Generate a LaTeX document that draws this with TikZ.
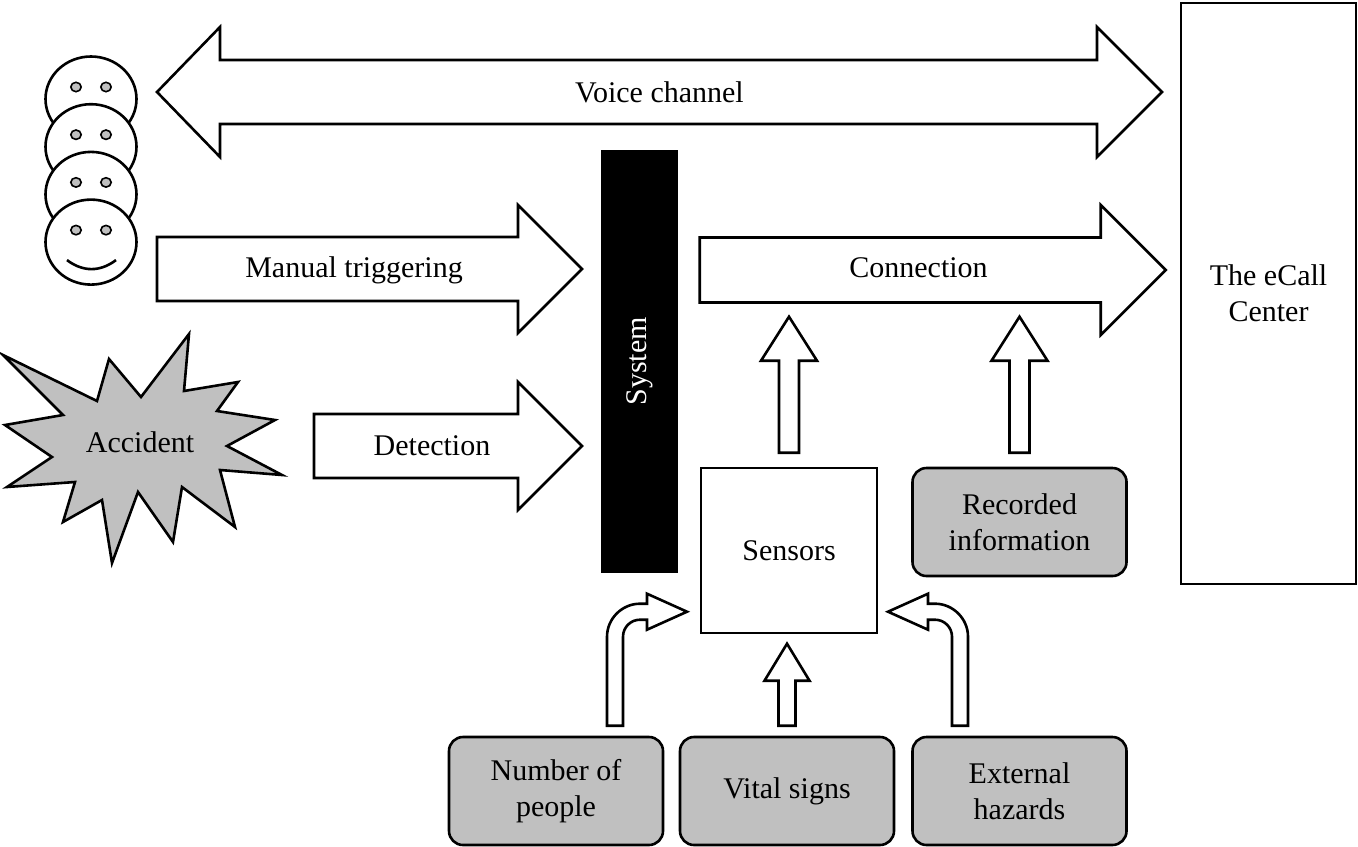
\documentclass[tikz,border=0pt]{standalone}
\usepackage{fontspec}
\setmainfont{Liberation Serif}
\usetikzlibrary{calc,shapes.geometric}
\definecolor{boxgray}{HTML}{C0C0C0}
% straight block arrow: tail, angle, length, half shaft, half head, head length
\newcommand{\blockarrow}[6]{%
    \draw[blk, shift={#1}, rotate=#2] (0,-#4) -- ({#3-#6},-#4) -- ({#3-#6},-#5) -- (#3,0)
        -- ({#3-#6},#5) -- ({#3-#6},#4) -- (0,#4) -- cycle;%
}
% bent block arrow, first up then sideways: foot, xscale (1 right, -1 left)
\newcommand{\bentarrow}[2]{%
    \draw[blk, shift={#1}, xscale=#2] (-8,0) -- (-8,-89) .. controls (-8,-107) and (7,-122) .. (25,-122)
        -- (32,-122) -- (32,-132) -- (72,-114) -- (32,-96) -- (32,-106) -- (25,-106)
        .. controls (15.6,-106) and (8,-98.4) .. (8,-89) -- (8,0) -- cycle;%
}

\begin{document}
\begin{tikzpicture}[x=0.5pt, y=-0.5pt,
every node/.style={font=\fontsize{15}{18}\selectfont},
blk/.style={draw, fill=white, line width=1.3pt},
lbl/.style={text height=10.5pt, text depth=3pt},
infobox/.style={draw, line width=1.3pt, fill=boxgray, rounded corners=7pt, align=center,
    minimum width=107pt, minimum height=54pt},
face/.style={ellipse, draw, fill=white, line width=1.3pt, inner sep=0pt,
    minimum width=45.5pt, minimum height=42.5pt},
eye/.style={draw, fill=boxgray, line width=0.8pt}]
\useasboundingbox (0,0) rectangle (1358,846);

% people in the car
\foreach \i in {0,...,3}{
    \node[face] (f\i) at (91,{99+47.7*\i}) {};
    \foreach \dx in {-15,15}
        \draw[eye] ($(f\i)+(\dx,-12)$) ellipse [x radius=5.2, y radius=4.7];
}
\draw[line width=1.3pt] ($(f3)+(-24,18)$) .. controls ($(f3)+(-8,30)$) and ($(f3)+(9,30)$) .. ($(f3)+(25,18)$);

% accident
\draw[line width=1.3pt, fill=boxgray] (3,355) -- (97,401) -- (109,359) -- (141,397) -- (189,334)
    -- (184,391) -- (238,382) -- (217,411) -- (275,420) -- (227,446) -- (282,475) -- (220,470)
    -- (235,527) -- (182,487) -- (173,542) -- (138,492) -- (112,563) -- (102,500) -- (63,522)
    -- (75,482) -- (7,487) -- (52,457) -- (5,425) -- (63,415) -- cycle;
\node (acc) at (140,442) {Accident};

% boxes
\node[fill=black, text=white, rotate=90, minimum width=211.5pt, minimum height=38.5pt] (sys) at (639.5,361.5) {System};
\node[draw, line width=1.3pt, minimum width=88pt, minimum height=82.5pt] (sens) at (789,550.5) {Sensors};
\node[draw, line width=1.3pt, align=center, minimum width=87.5pt, minimum height=290.5pt] (ecall) at (1268.5,293.5) {The eCall\\Center};
\node[infobox] (rec) at (1019.5,522) {Recorded\\information};
\node[infobox] (num) at (556,791) {Number of\\people};
\node[infobox] (vit) at (787,791) {Vital signs};
\node[infobox] (ext) at (1019.5,791) {External\\hazards};

% voice channel
\draw[blk] (157,92) -- (220,27) -- (220,60) -- (1097,60) -- (1097,27) -- (1162,92)
    -- (1097,157) -- (1097,124) -- (220,124) -- (220,157) -- cycle;
\node[lbl] (voice) at (659.5,95) {Voice channel};

% into the system, out to the center
\blockarrow{(157,269)}{0}{425}{32}{64}{64}
\blockarrow{(314,446)}{0}{268}{32}{64}{64}
\node[lbl] (trig) at (354,270) {Manual triggering};
\node[lbl] (det) at (432,448) {Detection};
\blockarrow{(sens.west |- trig)}{0}{466}{32.5}{65}{65}
\node[lbl] (con) at (918.5,270) {Connection};

% information up to the connection
\blockarrow{($(sens.north)+(0,-14)$)}{90}{136}{10}{28}{44}
\blockarrow{($(rec.north)+(0,-14)$)}{90}{136}{10}{28}{44}

% into the sensors
\blockarrow{($(vit.north)+(0,-10)$)}{90}{82}{8.5}{22.5}{37}
\bentarrow{($(num.north)+(59,-10)$)}{1}
\bentarrow{($(ext.north)+(-59.5,-10)$)}{-1}
\end{tikzpicture}
\end{document}
